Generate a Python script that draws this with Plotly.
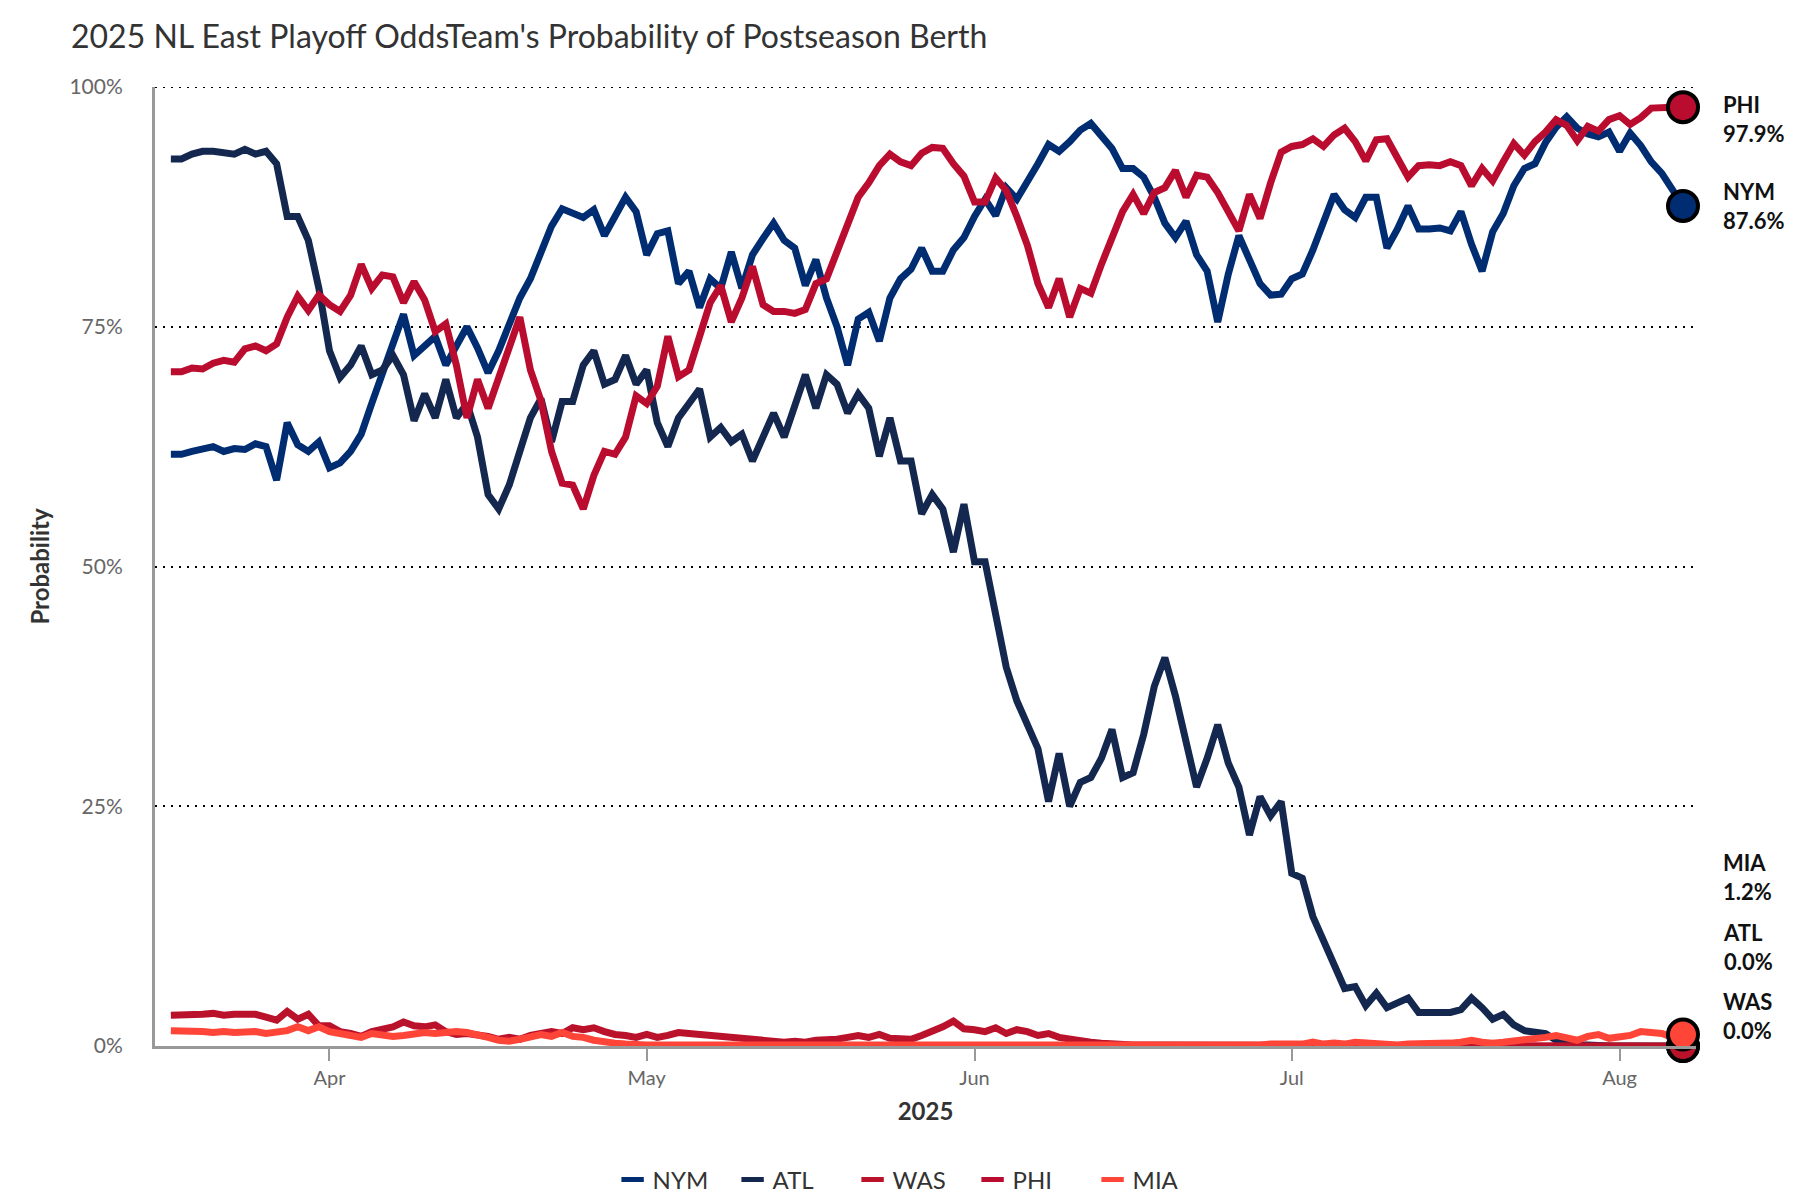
import pandas as pd
import plotly.graph_objects as go

# ---------------- data ----------------
start_date = "2025-03-17"
n_days = 144
dates = pd.date_range(start_date, periods=n_days, freq="D")

teams = ["NYM", "ATL", "WAS", "PHI", "MIA"]
colors = {"NYM": "#002D72", "ATL": "#13274F", "WAS": "#BA122B", "PHI": "#BA0C2F", "MIA": "#FF4438"}

nym = [61.7, 61.7, 62.0, 62.3, 62.5, 62.0, 62.3, 62.2, 62.8, 62.5,
       59.0, 65.0, 62.7, 62.0, 63.0, 60.3, 60.8, 62.0, 63.8, 67.0,
       70.0, 73.0, 76.3, 72.0, 73.0, 74.0, 71.0, 73.0, 75.0, 72.8,
       70.2, 72.5, 75.5, 78.0, 80.0, 83.0, 85.5, 87.3, 86.9, 86.4,
       87.2, 84.5, 86.5, 88.5, 87.0, 82.5, 84.7, 85.0, 79.5, 80.8,
       77.0, 80.0, 79.0, 82.8, 79.0, 82.5, 84.2, 85.8, 84.0, 83.2,
       79.3, 82.0, 78.0, 75.0, 71.0, 75.8, 76.5, 73.5, 78.0, 80.0,
       81.0, 83.2, 80.8, 80.8, 83.0, 84.3, 86.5, 88.3, 86.6, 89.5,
       88.3, 90.0, 92.0, 94.0, 93.3, 94.3, 95.5, 96.2, 95.0, 93.6,
       91.5, 91.5, 90.6, 88.5, 85.8, 84.3, 86.0, 82.5, 80.8, 75.5,
       80.5, 84.5, 82.0, 79.5, 78.3, 78.4, 80.0, 80.5, 83.0, 85.8,
       88.8, 87.2, 86.4, 88.5, 88.5, 83.2, 85.2, 87.6, 85.2, 85.2,
       85.3, 85.0, 87.0, 83.6, 80.8, 84.9, 86.8, 89.7, 91.5, 92.0,
       94.2, 95.8, 96.9, 95.7, 95.1, 94.8, 95.3, 93.3, 95.2, 93.9,
       92.2, 91.0, 89.3, 87.6]

atl = [92.5, 92.5, 93.0, 93.3, 93.3, 93.2, 93.0, 93.5, 93.0, 93.3,
       92.0, 86.5, 86.5, 84.0, 79.0, 72.5, 69.7, 71.0, 73.0, 70.0,
       70.5, 72.0, 70.0, 65.2, 68.0, 65.5, 69.5, 65.5, 67.0, 63.5,
       57.5, 56.0, 58.5, 62.0, 65.5, 67.5, 63.0, 67.2, 67.2, 71.0,
       72.5, 69.0, 69.5, 72.0, 69.0, 70.5, 65.0, 62.5, 65.5, 67.0,
       68.5, 63.5, 64.5, 63.0, 63.8, 61.0, 63.5, 66.0, 63.5, 67.0,
       70.0, 66.5, 70.0, 69.0, 66.0, 68.0, 66.5, 61.5, 65.5, 61.0,
       61.0, 55.5, 57.5, 56.0, 51.5, 56.5, 50.5, 50.5, 45.0, 39.5,
       36.0, 33.5, 31.0, 25.5, 30.5, 25.0, 27.5, 28.0, 30.0, 33.0,
       28.0, 28.5, 32.5, 37.5, 40.5, 36.5, 32.0, 27.0, 30.0, 33.5,
       29.5, 27.0, 22.0, 26.0, 24.0, 25.5, 18.0, 17.5, 13.5, 11.0,
       8.5, 6.0, 6.2, 4.2, 5.5, 4.0, 4.5, 5.0, 3.5, 3.5,
       3.5, 3.5, 3.8, 5.0, 4.0, 2.8, 3.3, 2.2, 1.6, 1.5,
       1.3, 0.6, 0.3, 0.1, 0.1, 0.0, 0.0, 0.0, 0.0, 0.0,
       0.0, 0.0, 0.0, 0.0]

phi = [70.3, 70.3, 70.7, 70.6, 71.2, 71.5, 71.3, 72.7, 73.0, 72.5,
       73.2, 76.0, 78.2, 76.7, 78.3, 77.3, 76.6, 78.3, 81.5, 79.0,
       80.4, 80.2, 77.5, 79.7, 77.8, 74.5, 75.3, 71.0, 65.5, 69.5,
       66.5, 69.5, 73.0, 76.0, 70.5, 67.3, 62.0, 58.7, 58.5, 56.0,
       59.5, 62.0, 61.7, 63.5, 67.8, 67.0, 68.8, 74.0, 69.8, 70.5,
       74.0, 77.5, 79.3, 75.5, 78.0, 81.3, 77.3, 76.6, 76.6, 76.4,
       76.8, 79.5, 80.0, 83.0, 86.0, 88.5, 90.0, 91.8, 93.0, 92.2,
       91.8, 93.1, 93.7, 93.6, 92.0, 90.7, 88.0, 88.0, 90.5, 89.2,
       86.5, 83.5, 79.5, 77.0, 80.0, 76.0, 79.0, 78.5, 81.5, 84.3,
       87.0, 88.8, 86.8, 89.0, 89.5, 91.3, 88.5, 90.8, 90.6, 89.0,
       86.8, 85.0, 88.8, 86.3, 90.0, 93.2, 93.8, 94.0, 94.6, 93.8,
       95.0, 95.7, 94.3, 92.3, 94.5, 94.6, 92.6, 90.6, 91.8, 91.9,
       91.8, 92.2, 91.8, 89.7, 91.5, 90.2, 92.2, 94.1, 92.9, 94.3,
       95.3, 96.6, 96.0, 94.4, 95.9, 95.4, 96.6, 97.0, 96.1, 96.8,
       97.8, 97.9, 97.9, 97.9]

was = [3.2, 3.2, 3.3, 3.3, 3.4, 3.2, 3.3, 3.3, 3.3, 3.0,
       2.7, 3.6, 2.8, 3.3, 2.1, 2.1, 1.5, 1.3, 1.0, 1.5,
       1.8, 2.0, 2.5, 2.1, 2.0, 2.2, 1.5, 1.2, 1.3, 1.2,
       1.0, 0.7, 0.9, 0.7, 1.1, 1.3, 1.5, 1.3, 1.9, 1.7,
       1.9, 1.5, 1.2, 1.1, 0.9, 1.2, 0.9, 1.1, 1.4, 1.3,
       1.2, 1.1, 1.0, 0.9, 0.8, 0.7, 0.5, 0.5, 0.4, 0.5,
       0.4, 0.6, 0.6, 0.7, 0.9, 1.1, 0.9, 1.2, 0.8, 0.8,
       0.7, 1.1, 1.5, 2.0, 2.6, 1.8, 1.7, 1.5, 1.9, 1.3,
       1.7, 1.5, 1.1, 1.3, 0.9, 0.7, 0.5, 0.4, 0.3, 0.2,
       0.2, 0.1, 0.1, 0.1, 0.1, 0.0, 0.0, 0.0, 0.0, 0.0,
       0.0, 0.0, 0.0, 0.0, 0.0, 0.0, 0.0, 0.0, 0.0, 0.0,
       0.0, 0.0, 0.0, 0.0, 0.0, 0.0, 0.0, 0.0, 0.0, 0.0,
       0.0, 0.0, 0.0, 0.0, 0.0, 0.0, 0.0, 0.0, 0.0, 0.0,
       0.0, 0.0, 0.0, 0.0, 0.0, 0.0, 0.0, 0.0, 0.0, 0.0,
       0.0, 0.0, 0.0, 0.0]

mia = [1.6, 1.6, 1.6, 1.5, 1.4, 1.5, 1.4, 1.4, 1.5, 1.3,
       1.4, 1.6, 2.0, 1.6, 2.0, 1.5, 1.3, 1.1, 0.9, 1.3,
       1.2, 1.0, 1.1, 1.2, 1.4, 1.3, 1.4, 1.5, 1.4, 1.2,
       0.9, 0.6, 0.5, 0.7, 1.0, 1.2, 1.0, 1.4, 1.0, 0.9,
       0.6, 0.4, 0.3, 0.2, 0.1, 0.1, 0.1, 0.1, 0.1, 0.1,
       0.1, 0.1, 0.1, 0.1, 0.1, 0.1, 0.1, 0.1, 0.1, 0.1,
       0.1, 0.1, 0.1, 0.1, 0.1, 0.1, 0.1, 0.1, 0.1, 0.1,
       0.1, 0.1, 0.1, 0.1, 0.1, 0.1, 0.1, 0.1, 0.1, 0.1,
       0.1, 0.1, 0.1, 0.0, 0.0, 0.0, 0.0, 0.0, 0.0, 0.0,
       0.0, 0.0, 0.0, 0.0, 0.0, 0.0, 0.0, 0.0, 0.0, 0.1,
       0.1, 0.1, 0.1, 0.1, 0.2, 0.2, 0.3, 0.2, 0.4, 0.2,
       0.3, 0.2, 0.4, 0.3, 0.2, 0.2, 0.1, 0.2, 0.2, 0.3,
       0.3, 0.3, 0.4, 0.6, 0.4, 0.3, 0.4, 0.5, 0.6, 0.8,
       0.9, 1.1, 0.9, 0.6, 1.0, 1.2, 0.8, 0.9, 1.1, 1.5,
       1.4, 1.3, 0.9, 1.2]

series = {"NYM": nym, "ATL": atl, "WAS": was, "PHI": phi, "MIA": mia}
for k, v in series.items():
    assert len(v) == n_days, (k, len(v))

title_text = "2025 NL East Playoff OddsTeam's Probability of Postseason Berth"
y_ticks = [0, 25, 50, 75, 100]
y_tick_text = ["0%", "25%", "50%", "75%", "100%"]

# ---------------- figure ----------------
FONT = "Lato, 'Open Sans', sans-serif"
GRID_DASH = "2px,6px"
fig = go.Figure()

# lines (legend handled by swatch traces below)
for t in teams:
    fig.add_trace(go.Scatter(
        x=dates, y=series[t], mode="lines", name=t, legendgroup=t, showlegend=False,
        line=dict(color=colors[t], width=7),
        cliponaxis=False, hoverinfo="x+y+name",
    ))

# end-point markers
for t in teams:
    fig.add_trace(go.Scatter(
        x=[dates[-1]], y=[series[t][-1]], mode="markers", legendgroup=t, showlegend=False,
        marker=dict(size=30, color=colors[t], line=dict(color="#000000", width=4)),
        cliponaxis=False, hoverinfo="skip",
    ))

# legend swatches (short rectangles)
for t in teams:
    fig.add_trace(go.Scatter(
        x=[None], y=[None], mode="markers", name=t, legendgroup=t, showlegend=True,
        marker=dict(symbol="line-ew", size=16, color=colors[t],
                    line=dict(color=colors[t], width=8)),
        hoverinfo="skip",
    ))

# end labels with simple de-overlap
LABEL_MIN, LABEL_MAX, LABEL_GAP = 3.1, 96.7, 7.25
tie = {"WAS": 0, "ATL": 1, "MIA": 2, "NYM": 3, "PHI": 4}
order = sorted(teams, key=lambda t: (series[t][-1], tie[t]))
pos = {}
prev = None
for t in order:
    p = min(max(series[t][-1], LABEL_MIN), LABEL_MAX)
    if prev is not None:
        p = max(p, prev + LABEL_GAP)
    pos[t] = p
    prev = p

for t in teams:
    fig.add_annotation(
        x=dates[-1], y=pos[t], xref="x", yref="y",
        text=f"<b>{t}</b><br><b>{series[t][-1]:.1f}%</b>",
        showarrow=False, xanchor="left", yanchor="middle", align="left",
        xshift=38, font=dict(family=FONT, size=22, color="#111111"),
    )

# top (100%) dotted gridline sits on the range edge, draw it explicitly
fig.add_shape(type="line", xref="paper", yref="y", x0=0, x1=1, y0=100, y1=100,
              line=dict(color="#000000", width=2, dash=GRID_DASH), layer="below")

fig.update_layout(
    width=1800, height=1200,
    margin=dict(l=155, r=104, t=87, b=154, autoexpand=False),
    paper_bgcolor="white", plot_bgcolor="white",
    font=dict(family=FONT, color="#333333"),
    title=dict(text=title_text, x=71 / 1800, xanchor="left", y=1 - 37 / 1200, yanchor="middle",
               font=dict(family=FONT, size=32, color="#333333")),
    showlegend=True,
    legend=dict(orientation="h", xref="container", yref="container",
                x=0.507, xanchor="center", y=1 - 1180 / 1200, yanchor="middle",
                entrywidth=75, entrywidthmode="pixels",
                font=dict(family=FONT, size=24, color="#333333"),
                traceorder="normal", itemclick=False, itemdoubleclick=False),
    hovermode="closest",
)

fig.update_xaxes(
    type="date", automargin=False,
    range=["2025-03-15 12:00", "2025-08-08 05:30"],
    dtick="M1", tick0="2025-03-01", tickformat="%b",
    ticks="outside", ticklen=12, tickwidth=2, tickcolor="#999999",
    showline=True, linecolor="#999999", linewidth=3,
    showgrid=False, zeroline=False,
    tickfont=dict(family=FONT, size=20, color="#666666"),
    title=dict(text="<b>2025</b>", font=dict(family=FONT, size=24, color="#333333"), standoff=16),
)

fig.update_yaxes(
    range=[0, 100], automargin=False,
    tickvals=y_ticks, ticktext=y_tick_text,
    ticks="", ticklabelstandoff=25,
    showline=True, linecolor="#999999", linewidth=3,
    showgrid=True, gridcolor="#000000", gridwidth=2, griddash=GRID_DASH,
    zeroline=False,
    tickfont=dict(family=FONT, size=21, color="#666666"),
    title=dict(text="<b>Probability</b>", font=dict(family=FONT, size=24, color="#333333"), standoff=14),
)

fig.write_html("out.html", config={"displayModeBar": False},
               post_script="document.body.style.margin='0';")
